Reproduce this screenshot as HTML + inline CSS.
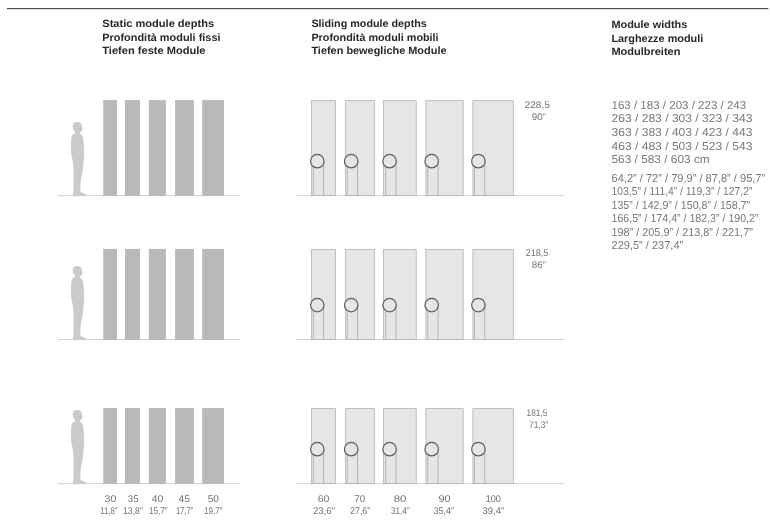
<!DOCTYPE html>
<html lang="en">
<head>
<meta charset="utf-8">
<title>Module depths and widths</title>
<style>
html,body{margin:0;padding:0;background:#fff;}
body{width:770px;height:522px;overflow:hidden;font-family:"Liberation Sans", sans-serif;}
svg{display:block;font-family:"Liberation Sans", sans-serif;text-rendering:geometricPrecision;}
</style>
</head>
<body>
<svg role="img" aria-label="Module depths and widths" width="770" height="522" viewBox="0 0 770 522">
<rect width="770" height="522" fill="#ffffff"/>
<rect x="7" y="8" width="761.4" height="1.15" fill="#4c4c4c"/>
<text x="102.3" y="27" font-size="10.6" fill="#272727" font-weight="bold" textLength="111.8" lengthAdjust="spacingAndGlyphs">Static module depths</text>
<text x="102.3" y="41" font-size="10.6" fill="#272727" font-weight="bold" textLength="118.2" lengthAdjust="spacingAndGlyphs">Profondità moduli fissi</text>
<text x="102.3" y="54" font-size="10.6" fill="#272727" font-weight="bold" textLength="103.2" lengthAdjust="spacingAndGlyphs">Tiefen feste Module</text>
<text x="311.4" y="27" font-size="10.6" fill="#272727" font-weight="bold" textLength="115.4" lengthAdjust="spacingAndGlyphs">Sliding module depths</text>
<text x="311.4" y="41" font-size="10.6" fill="#272727" font-weight="bold" textLength="127.2" lengthAdjust="spacingAndGlyphs">Profondità moduli mobili</text>
<text x="311.4" y="54" font-size="10.6" fill="#272727" font-weight="bold" textLength="135.1" lengthAdjust="spacingAndGlyphs">Tiefen bewegliche Module</text>
<text x="611.4" y="28" font-size="10.6" fill="#272727" font-weight="bold" textLength="75.9" lengthAdjust="spacingAndGlyphs">Module widths</text>
<text x="611.4" y="42" font-size="10.6" fill="#272727" font-weight="bold" textLength="91.9" lengthAdjust="spacingAndGlyphs">Larghezze moduli</text>
<text x="611.4" y="55" font-size="10.6" fill="#272727" font-weight="bold" textLength="69" lengthAdjust="spacingAndGlyphs">Modulbreiten</text>
<rect x="58" y="195.2" width="182" height="0.9" fill="#cdcdcd"/>
<rect x="296.3" y="195.2" width="268.4" height="0.9" fill="#cdcdcd"/>
<path transform="translate(0 0.0)" d="M77.20 122.00C76.25 121.98 75.23 122.15 74.50 122.70C73.77 123.25 73.07 124.30 72.80 125.30C72.53 126.30 72.62 127.72 72.90 128.70C73.18 129.68 74.18 130.45 74.50 131.20C74.82 131.95 75.15 132.57 74.80 133.20C74.45 133.83 72.98 134.12 72.40 135.00C71.82 135.88 71.52 136.67 71.30 138.50C71.08 140.33 71.10 143.42 71.10 146.00C71.10 148.58 71.05 151.67 71.30 154.00C71.55 156.33 72.23 157.67 72.60 160.00C72.97 162.33 73.33 165.00 73.50 168.00C73.67 171.00 73.60 174.67 73.60 178.00C73.60 181.33 73.53 185.07 73.50 188.00C73.47 190.93 72.32 194.30 73.40 195.60C74.48 196.90 77.85 195.78 80.00 195.80C82.15 195.82 85.27 195.90 86.30 195.70C87.33 195.50 86.75 195.02 86.20 194.60C85.65 194.18 83.93 193.70 83.00 193.20C82.07 192.70 81.03 192.63 80.60 191.60C80.17 190.57 80.35 188.93 80.40 187.00C80.45 185.07 80.53 182.67 80.90 180.00C81.27 177.33 82.17 174.00 82.60 171.00C83.03 168.00 83.23 164.67 83.50 162.00C83.77 159.33 84.13 157.50 84.20 155.00C84.27 152.50 84.03 149.50 83.90 147.00C83.77 144.50 83.67 141.83 83.40 140.00C83.13 138.17 82.78 137.00 82.30 136.00C81.82 135.00 80.83 134.60 80.50 134.00C80.17 133.40 80.08 132.93 80.30 132.40C80.52 131.87 81.43 131.37 81.80 130.80C82.17 130.23 82.45 129.70 82.50 129.00C82.55 128.30 82.25 127.37 82.10 126.60C81.95 125.83 81.92 125.03 81.60 124.40C81.28 123.77 80.93 123.20 80.20 122.80C79.47 122.40 78.15 122.02 77.20 122.00Z" fill="#cbcbcb"/>
<rect x="103.65" y="100.35" width="13.1" height="95.15" fill="#b9b9b9" stroke="#adadad" stroke-width="0.5"/>
<rect x="125.25" y="100.35" width="14.5" height="95.15" fill="#b9b9b9" stroke="#adadad" stroke-width="0.5"/>
<rect x="149.15" y="100.35" width="16.5" height="95.15" fill="#b9b9b9" stroke="#adadad" stroke-width="0.5"/>
<rect x="175.35" y="100.35" width="18.3" height="95.15" fill="#b9b9b9" stroke="#adadad" stroke-width="0.5"/>
<rect x="202.55" y="100.35" width="21.2" height="95.15" fill="#b9b9b9" stroke="#adadad" stroke-width="0.5"/>
<rect x="311.6" y="100.7" width="23.8" height="94.8" fill="#e6e6e6" stroke="#b2b2b2" stroke-width="0.8"/>
<path d="M313.40000000000003 167.2V195.5M323.6 164.2V195.5" stroke="#a8a8a8" stroke-width="0.8" fill="none"/>
<circle cx="317.3" cy="161.2" r="6.75" fill="#e6e6e6" stroke="#5c5c5c" stroke-width="1.25"/>
<rect x="345.6" y="100.7" width="28.9" height="94.8" fill="#e6e6e6" stroke="#b2b2b2" stroke-width="0.8"/>
<path d="M347.3 167.2V195.5M357.5 164.2V195.5" stroke="#a8a8a8" stroke-width="0.8" fill="none"/>
<circle cx="351.2" cy="161.2" r="6.75" fill="#e6e6e6" stroke="#5c5c5c" stroke-width="1.25"/>
<rect x="383.5" y="100.7" width="32.7" height="94.8" fill="#e6e6e6" stroke="#b2b2b2" stroke-width="0.8"/>
<path d="M385.70000000000005 167.2V195.5M395.90000000000003 164.2V195.5" stroke="#a8a8a8" stroke-width="0.8" fill="none"/>
<circle cx="389.6" cy="161.2" r="6.75" fill="#e6e6e6" stroke="#5c5c5c" stroke-width="1.25"/>
<rect x="425.9" y="100.7" width="37.3" height="94.8" fill="#e6e6e6" stroke="#b2b2b2" stroke-width="0.8"/>
<path d="M427.8 167.2V195.5M438.0 164.2V195.5" stroke="#a8a8a8" stroke-width="0.8" fill="none"/>
<circle cx="431.7" cy="161.2" r="6.75" fill="#e6e6e6" stroke="#5c5c5c" stroke-width="1.25"/>
<rect x="472.9" y="100.7" width="40.5" height="94.8" fill="#e6e6e6" stroke="#b2b2b2" stroke-width="0.8"/>
<path d="M474.5 167.2V195.5M484.7 164.2V195.5" stroke="#a8a8a8" stroke-width="0.8" fill="none"/>
<circle cx="478.4" cy="161.2" r="6.75" fill="#e6e6e6" stroke="#5c5c5c" stroke-width="1.25"/>
<rect x="58" y="339.1" width="182" height="0.9" fill="#cdcdcd"/>
<rect x="296.3" y="339.1" width="268.4" height="0.9" fill="#cdcdcd"/>
<path transform="translate(0 143.89999999999998)" d="M77.20 122.00C76.25 121.98 75.23 122.15 74.50 122.70C73.77 123.25 73.07 124.30 72.80 125.30C72.53 126.30 72.62 127.72 72.90 128.70C73.18 129.68 74.18 130.45 74.50 131.20C74.82 131.95 75.15 132.57 74.80 133.20C74.45 133.83 72.98 134.12 72.40 135.00C71.82 135.88 71.52 136.67 71.30 138.50C71.08 140.33 71.10 143.42 71.10 146.00C71.10 148.58 71.05 151.67 71.30 154.00C71.55 156.33 72.23 157.67 72.60 160.00C72.97 162.33 73.33 165.00 73.50 168.00C73.67 171.00 73.60 174.67 73.60 178.00C73.60 181.33 73.53 185.07 73.50 188.00C73.47 190.93 72.32 194.30 73.40 195.60C74.48 196.90 77.85 195.78 80.00 195.80C82.15 195.82 85.27 195.90 86.30 195.70C87.33 195.50 86.75 195.02 86.20 194.60C85.65 194.18 83.93 193.70 83.00 193.20C82.07 192.70 81.03 192.63 80.60 191.60C80.17 190.57 80.35 188.93 80.40 187.00C80.45 185.07 80.53 182.67 80.90 180.00C81.27 177.33 82.17 174.00 82.60 171.00C83.03 168.00 83.23 164.67 83.50 162.00C83.77 159.33 84.13 157.50 84.20 155.00C84.27 152.50 84.03 149.50 83.90 147.00C83.77 144.50 83.67 141.83 83.40 140.00C83.13 138.17 82.78 137.00 82.30 136.00C81.82 135.00 80.83 134.60 80.50 134.00C80.17 133.40 80.08 132.93 80.30 132.40C80.52 131.87 81.43 131.37 81.80 130.80C82.17 130.23 82.45 129.70 82.50 129.00C82.55 128.30 82.25 127.37 82.10 126.60C81.95 125.83 81.92 125.03 81.60 124.40C81.28 123.77 80.93 123.20 80.20 122.80C79.47 122.40 78.15 122.02 77.20 122.00Z" fill="#cbcbcb"/>
<rect x="103.65" y="249.15" width="13.1" height="90.25" fill="#b9b9b9" stroke="#adadad" stroke-width="0.5"/>
<rect x="125.25" y="249.15" width="14.5" height="90.25" fill="#b9b9b9" stroke="#adadad" stroke-width="0.5"/>
<rect x="149.15" y="249.15" width="16.5" height="90.25" fill="#b9b9b9" stroke="#adadad" stroke-width="0.5"/>
<rect x="175.35" y="249.15" width="18.3" height="90.25" fill="#b9b9b9" stroke="#adadad" stroke-width="0.5"/>
<rect x="202.55" y="249.15" width="21.2" height="90.25" fill="#b9b9b9" stroke="#adadad" stroke-width="0.5"/>
<rect x="311.6" y="249.5" width="23.8" height="89.9" fill="#e6e6e6" stroke="#b2b2b2" stroke-width="0.8"/>
<path d="M313.40000000000003 311.09999999999997V339.4M323.6 308.09999999999997V339.4" stroke="#a8a8a8" stroke-width="0.8" fill="none"/>
<circle cx="317.3" cy="305.09999999999997" r="6.75" fill="#e6e6e6" stroke="#5c5c5c" stroke-width="1.25"/>
<rect x="345.6" y="249.5" width="28.9" height="89.9" fill="#e6e6e6" stroke="#b2b2b2" stroke-width="0.8"/>
<path d="M347.3 311.09999999999997V339.4M357.5 308.09999999999997V339.4" stroke="#a8a8a8" stroke-width="0.8" fill="none"/>
<circle cx="351.2" cy="305.09999999999997" r="6.75" fill="#e6e6e6" stroke="#5c5c5c" stroke-width="1.25"/>
<rect x="383.5" y="249.5" width="32.7" height="89.9" fill="#e6e6e6" stroke="#b2b2b2" stroke-width="0.8"/>
<path d="M385.70000000000005 311.09999999999997V339.4M395.90000000000003 308.09999999999997V339.4" stroke="#a8a8a8" stroke-width="0.8" fill="none"/>
<circle cx="389.6" cy="305.09999999999997" r="6.75" fill="#e6e6e6" stroke="#5c5c5c" stroke-width="1.25"/>
<rect x="425.9" y="249.5" width="37.3" height="89.9" fill="#e6e6e6" stroke="#b2b2b2" stroke-width="0.8"/>
<path d="M427.8 311.09999999999997V339.4M438.0 308.09999999999997V339.4" stroke="#a8a8a8" stroke-width="0.8" fill="none"/>
<circle cx="431.7" cy="305.09999999999997" r="6.75" fill="#e6e6e6" stroke="#5c5c5c" stroke-width="1.25"/>
<rect x="472.9" y="249.5" width="40.5" height="89.9" fill="#e6e6e6" stroke="#b2b2b2" stroke-width="0.8"/>
<path d="M474.5 311.09999999999997V339.4M484.7 308.09999999999997V339.4" stroke="#a8a8a8" stroke-width="0.8" fill="none"/>
<circle cx="478.4" cy="305.09999999999997" r="6.75" fill="#e6e6e6" stroke="#5c5c5c" stroke-width="1.25"/>
<rect x="58" y="483.2" width="182" height="0.9" fill="#cdcdcd"/>
<rect x="296.3" y="483.2" width="268.4" height="0.9" fill="#cdcdcd"/>
<path transform="translate(0 288.0)" d="M77.20 122.00C76.25 121.98 75.23 122.15 74.50 122.70C73.77 123.25 73.07 124.30 72.80 125.30C72.53 126.30 72.62 127.72 72.90 128.70C73.18 129.68 74.18 130.45 74.50 131.20C74.82 131.95 75.15 132.57 74.80 133.20C74.45 133.83 72.98 134.12 72.40 135.00C71.82 135.88 71.52 136.67 71.30 138.50C71.08 140.33 71.10 143.42 71.10 146.00C71.10 148.58 71.05 151.67 71.30 154.00C71.55 156.33 72.23 157.67 72.60 160.00C72.97 162.33 73.33 165.00 73.50 168.00C73.67 171.00 73.60 174.67 73.60 178.00C73.60 181.33 73.53 185.07 73.50 188.00C73.47 190.93 72.32 194.30 73.40 195.60C74.48 196.90 77.85 195.78 80.00 195.80C82.15 195.82 85.27 195.90 86.30 195.70C87.33 195.50 86.75 195.02 86.20 194.60C85.65 194.18 83.93 193.70 83.00 193.20C82.07 192.70 81.03 192.63 80.60 191.60C80.17 190.57 80.35 188.93 80.40 187.00C80.45 185.07 80.53 182.67 80.90 180.00C81.27 177.33 82.17 174.00 82.60 171.00C83.03 168.00 83.23 164.67 83.50 162.00C83.77 159.33 84.13 157.50 84.20 155.00C84.27 152.50 84.03 149.50 83.90 147.00C83.77 144.50 83.67 141.83 83.40 140.00C83.13 138.17 82.78 137.00 82.30 136.00C81.82 135.00 80.83 134.60 80.50 134.00C80.17 133.40 80.08 132.93 80.30 132.40C80.52 131.87 81.43 131.37 81.80 130.80C82.17 130.23 82.45 129.70 82.50 129.00C82.55 128.30 82.25 127.37 82.10 126.60C81.95 125.83 81.92 125.03 81.60 124.40C81.28 123.77 80.93 123.20 80.20 122.80C79.47 122.40 78.15 122.02 77.20 122.00Z" fill="#cbcbcb"/>
<rect x="103.65" y="408.25" width="13.1" height="75.25" fill="#b9b9b9" stroke="#adadad" stroke-width="0.5"/>
<rect x="125.25" y="408.25" width="14.5" height="75.25" fill="#b9b9b9" stroke="#adadad" stroke-width="0.5"/>
<rect x="149.15" y="408.25" width="16.5" height="75.25" fill="#b9b9b9" stroke="#adadad" stroke-width="0.5"/>
<rect x="175.35" y="408.25" width="18.3" height="75.25" fill="#b9b9b9" stroke="#adadad" stroke-width="0.5"/>
<rect x="202.55" y="408.25" width="21.2" height="75.25" fill="#b9b9b9" stroke="#adadad" stroke-width="0.5"/>
<rect x="311.6" y="408.6" width="23.8" height="74.9" fill="#e6e6e6" stroke="#b2b2b2" stroke-width="0.8"/>
<path d="M313.40000000000003 455.2V483.5M323.6 452.2V483.5" stroke="#a8a8a8" stroke-width="0.8" fill="none"/>
<circle cx="317.3" cy="449.2" r="6.75" fill="#e6e6e6" stroke="#5c5c5c" stroke-width="1.25"/>
<rect x="345.6" y="408.6" width="28.9" height="74.9" fill="#e6e6e6" stroke="#b2b2b2" stroke-width="0.8"/>
<path d="M347.3 455.2V483.5M357.5 452.2V483.5" stroke="#a8a8a8" stroke-width="0.8" fill="none"/>
<circle cx="351.2" cy="449.2" r="6.75" fill="#e6e6e6" stroke="#5c5c5c" stroke-width="1.25"/>
<rect x="383.5" y="408.6" width="32.7" height="74.9" fill="#e6e6e6" stroke="#b2b2b2" stroke-width="0.8"/>
<path d="M385.70000000000005 455.2V483.5M395.90000000000003 452.2V483.5" stroke="#a8a8a8" stroke-width="0.8" fill="none"/>
<circle cx="389.6" cy="449.2" r="6.75" fill="#e6e6e6" stroke="#5c5c5c" stroke-width="1.25"/>
<rect x="425.9" y="408.6" width="37.3" height="74.9" fill="#e6e6e6" stroke="#b2b2b2" stroke-width="0.8"/>
<path d="M427.8 455.2V483.5M438.0 452.2V483.5" stroke="#a8a8a8" stroke-width="0.8" fill="none"/>
<circle cx="431.7" cy="449.2" r="6.75" fill="#e6e6e6" stroke="#5c5c5c" stroke-width="1.25"/>
<rect x="472.9" y="408.6" width="40.5" height="74.9" fill="#e6e6e6" stroke="#b2b2b2" stroke-width="0.8"/>
<path d="M474.5 455.2V483.5M484.7 452.2V483.5" stroke="#a8a8a8" stroke-width="0.8" fill="none"/>
<circle cx="478.4" cy="449.2" r="6.75" fill="#e6e6e6" stroke="#5c5c5c" stroke-width="1.25"/>
<text x="524.6" y="108" font-size="9.6" fill="#737373" textLength="25.3" lengthAdjust="spacingAndGlyphs">228,5</text>
<text x="531.7" y="120" font-size="9.6" fill="#737373" textLength="14.3" lengthAdjust="spacingAndGlyphs">90”</text>
<text x="525.6" y="256" font-size="9.6" fill="#737373" textLength="22.8" lengthAdjust="spacingAndGlyphs">218,5</text>
<text x="531.7" y="268" font-size="9.6" fill="#737373" textLength="14.3" lengthAdjust="spacingAndGlyphs">86”</text>
<text x="526.6" y="416" font-size="9.6" fill="#737373" textLength="20.8" lengthAdjust="spacingAndGlyphs">181,5</text>
<text x="529" y="428" font-size="9.6" fill="#737373" textLength="19.3" lengthAdjust="spacingAndGlyphs">71,3”</text>
<text x="104.5" y="502" font-size="9.8" fill="#737373" textLength="11.8" lengthAdjust="spacingAndGlyphs">30</text>
<text x="100.3" y="514" font-size="9.7" fill="#737373" textLength="17.2" lengthAdjust="spacingAndGlyphs">11,8”</text>
<text x="127.7" y="502" font-size="9.8" fill="#737373" textLength="10.9" lengthAdjust="spacingAndGlyphs">35</text>
<text x="123" y="514" font-size="9.7" fill="#737373" textLength="19.8" lengthAdjust="spacingAndGlyphs">13,8”</text>
<text x="151.7" y="502" font-size="9.8" fill="#737373" textLength="11.5" lengthAdjust="spacingAndGlyphs">40</text>
<text x="149" y="514" font-size="9.7" fill="#737373" textLength="18.4" lengthAdjust="spacingAndGlyphs">15,7”</text>
<text x="178.6" y="502" font-size="9.8" fill="#737373" textLength="11.5" lengthAdjust="spacingAndGlyphs">45</text>
<text x="175.9" y="514" font-size="9.7" fill="#737373" textLength="17.3" lengthAdjust="spacingAndGlyphs">17,7”</text>
<text x="207.7" y="502" font-size="9.8" fill="#737373" textLength="11.3" lengthAdjust="spacingAndGlyphs">50</text>
<text x="204" y="514" font-size="9.7" fill="#737373" textLength="18.4" lengthAdjust="spacingAndGlyphs">19,7”</text>
<text x="317.7" y="502" font-size="9.8" fill="#737373" textLength="11.7" lengthAdjust="spacingAndGlyphs">60</text>
<text x="312.9" y="514" font-size="9.7" fill="#737373" textLength="22" lengthAdjust="spacingAndGlyphs">23,6”</text>
<text x="354.3" y="502" font-size="9.8" fill="#737373" textLength="10.8" lengthAdjust="spacingAndGlyphs">70</text>
<text x="350" y="514" font-size="9.7" fill="#737373" textLength="20.3" lengthAdjust="spacingAndGlyphs">27,6”</text>
<text x="393.7" y="502" font-size="9.8" fill="#737373" textLength="12.6" lengthAdjust="spacingAndGlyphs">80</text>
<text x="390.9" y="514" font-size="9.7" fill="#737373" textLength="18.8" lengthAdjust="spacingAndGlyphs">31,4”</text>
<text x="438.6" y="502" font-size="9.8" fill="#737373" textLength="12" lengthAdjust="spacingAndGlyphs">90</text>
<text x="433.7" y="514" font-size="9.7" fill="#737373" textLength="20.2" lengthAdjust="spacingAndGlyphs">35,4”</text>
<text x="485.7" y="502" font-size="9.8" fill="#737373" textLength="15.2" lengthAdjust="spacingAndGlyphs">100</text>
<text x="482.5" y="514" font-size="9.7" fill="#737373" textLength="21.7" lengthAdjust="spacingAndGlyphs">39,4”</text>
<text x="611.5" y="109" font-size="11.5" fill="#787878" textLength="134.7" lengthAdjust="spacingAndGlyphs">163 / 183 / 203 / 223 / 243</text>
<text x="611.5" y="122" font-size="11.5" fill="#787878" textLength="140.9" lengthAdjust="spacingAndGlyphs">263 / 283 / 303 / 323 / 343</text>
<text x="611.5" y="136" font-size="11.5" fill="#787878" textLength="140.9" lengthAdjust="spacingAndGlyphs">363 / 383 / 403 / 423 / 443</text>
<text x="611.5" y="150" font-size="11.5" fill="#787878" textLength="140.9" lengthAdjust="spacingAndGlyphs">463 / 483 / 503 / 523 / 543</text>
<text x="611.5" y="163" font-size="11.5" fill="#787878" textLength="98.2" lengthAdjust="spacingAndGlyphs">563 / 583 / 603 cm</text>
<text x="611.5" y="182" font-size="11.5" fill="#787878" textLength="153.7" lengthAdjust="spacingAndGlyphs">64,2” / 72” / 79,9” / 87,8” / 95,7”</text>
<text x="611.5" y="195" font-size="11.5" fill="#787878" textLength="140.9" lengthAdjust="spacingAndGlyphs">103,5” / 111,4” / 119,3” / 127,2”</text>
<text x="611.5" y="209" font-size="11.5" fill="#787878" textLength="138.6" lengthAdjust="spacingAndGlyphs">135” / 142,9” / 150,8” / 158,7”</text>
<text x="611.5" y="222" font-size="11.5" fill="#787878" textLength="147" lengthAdjust="spacingAndGlyphs">166,5” / 174,4” / 182,3” / 190,2”</text>
<text x="611.5" y="236" font-size="11.5" fill="#787878" textLength="141.3" lengthAdjust="spacingAndGlyphs">198” / 205,9” / 213,8” / 221,7”</text>
<text x="611.5" y="249" font-size="11.5" fill="#787878" textLength="71.7" lengthAdjust="spacingAndGlyphs">229,5” / 237,4”</text>
</svg>
</body>
</html>
